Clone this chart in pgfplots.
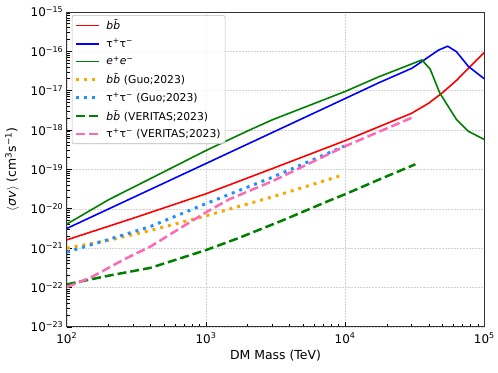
\documentclass[border=0pt]{standalone}
\usepackage{fontspec}
\setmainfont{DejaVu Sans}
\usepackage{pgfplots}
\pgfplotsset{compat=1.18}

\definecolor{mplgreen}{RGB}{0,128,0}
\definecolor{mplorange}{RGB}{255,165,0}
\definecolor{dodger}{RGB}{30,144,255}
\definecolor{hotpink}{RGB}{255,105,180}

\begin{document}
\begin{tikzpicture}
\begin{axis}[
    scale only axis,
    width=419pt, height=316pt,
    xmode=log, ymode=log,
    xmin=100, xmax=1e5,
    ymin=1e-23, ymax=1e-15,
    label style={font=\fontsize{12.5}{15}\selectfont},
    tick label style={font=\fontsize{12}{14}\selectfont},
    xticklabel style={yshift=-2.5pt},
    xtick={100,1000,10000,100000},
    xticklabels={10\textsuperscript{2},10\textsuperscript{3},10\textsuperscript{4},10\textsuperscript{5}},
    ytick={1e-23,1e-22,1e-21,1e-20,1e-19,1e-18,1e-17,1e-16,1e-15},
    yticklabels={10\textsuperscript{−23},10\textsuperscript{−22},10\textsuperscript{−21},10\textsuperscript{−20},10\textsuperscript{−19},10\textsuperscript{−18},10\textsuperscript{−17},10\textsuperscript{−16},10\textsuperscript{−15}},
    tick align=inside,
    xtick pos=bottom, ytick pos=left,
    major tick length=5pt, minor tick length=3pt,
    every tick/.style={black, line width=0.7pt},
    axis line style={black!80, line width=0.9pt},
    grid=major,
    major grid style={gray!35, line width=0.5pt, densely dotted},
    xlabel={DM Mass (TeV)},
    ylabel={$\langle$\textit{σv}$\rangle$ (cm\textsuperscript{3}s\textsuperscript{−1})},
    ylabel style={yshift=5pt},
    legend cell align=left,
    legend style={at={(0.012,0.99)}, anchor=north west, draw=gray!55,
        draw opacity=1, line width=0.6pt,
        rounded corners=2pt, fill=white, fill opacity=0.8, text opacity=1,
        font=\fontsize{10.8}{13}\selectfont,
        row sep=3.4pt, inner sep=2.5pt,
        /tikz/every odd column/.append style={column sep=4pt}},
    legend image code/.code={\draw[#1] (0pt,0pt) -- (23pt,0pt);},
]
% b bbar
\addplot[red, line width=1.6pt] coordinates {
(100,1.62e-21) (300,5.75e-21) (1000,2.40e-20) (3000,1.05e-19) (10000,5.37e-19)
(30200,2.69e-18) (39800,4.79e-18) (50100,8.91e-18) (63100,1.82e-17) (79400,4.17e-17) (100000,9.33e-17)
};
\addlegendentry{\textit{bb̄}}
% tau tau
\addplot[blue, line width=1.6pt] coordinates {
(100,3.16e-21) (1000,1.41e-19) (10000,6.31e-18) (17400,1.58e-17) (30200,3.72e-17)
(35600,5.50e-17) (46800,1.07e-16) (54600,1.35e-16) (63100,9.77e-17) (76700,4.17e-17) (100000,2.0e-17)
};
\addlegendentry{τ\textsuperscript{+}τ\textsuperscript{−}}
% e e
\addplot[mplgreen, line width=1.6pt] coordinates {
(100,4.07e-21) (200,1.70e-20) (500,8.71e-20) (1000,3.02e-19) (2000,9.55e-19) (3000,1.82e-18)
(10000,9.55e-18) (17400,2.24e-17) (35600,6.03e-17) (40800,3.55e-17) (47900,8.71e-18)
(63100,1.86e-18) (76700,9.33e-19) (100000,5.75e-19)
};
\addlegendentry{\textit{e}\textsuperscript{+}\textit{e}\textsuperscript{−}}
% b bbar Guo
\addplot[mplorange, line width=3pt, dash pattern=on 3pt off 5pt] coordinates {
(100,1.0e-21) (200,1.58e-21) (400,2.82e-21) (1000,6.61e-21) (3000,2.0e-20) (9500,7.08e-20)
};
\addlegendentry{\textit{bb̄} (Guo;2023)}
% tau tau Guo
\addplot[dodger, line width=3pt, dash pattern=on 3pt off 5pt] coordinates {
(100,7.94e-22) (200,1.66e-21) (400,3.55e-21) (1000,1.35e-20) (3000,6.31e-20) (10000,3.98e-19)
};
\addlegendentry{τ\textsuperscript{+}τ\textsuperscript{−} (Guo;2023)}
% b bbar VERITAS
\addplot[mplgreen, line width=2.5pt, dash pattern=on 9pt off 4pt] coordinates {
(100,1.20e-22) (200,2.0e-22) (400,3.16e-22) (1000,8.91e-22) (1700,1.78e-21) (3700,5.37e-21)
(7600,1.58e-20) (10000,2.34e-20) (18000,5.75e-20) (32000,1.35e-19)
};
\addlegendentry{\textit{bb̄} (VERITAS;2023)}
% tau tau VERITAS
\addplot[hotpink, line width=2.5pt, dash pattern=on 9pt off 4pt] coordinates {
(100,1.02e-22) (150,1.82e-22) (260,5.25e-22) (400,1.10e-21) (1000,8.13e-21) (1470,1.74e-20)
(3000,5.01e-20) (10000,3.89e-19) (30000,2.04e-18)
};
\addlegendentry{τ\textsuperscript{+}τ\textsuperscript{−} (VERITAS;2023)}
\end{axis}
\path (current axis.south west) ++(-67pt,-46pt) (current axis.north east) ++(12pt,12pt);
\end{tikzpicture}
\end{document}
